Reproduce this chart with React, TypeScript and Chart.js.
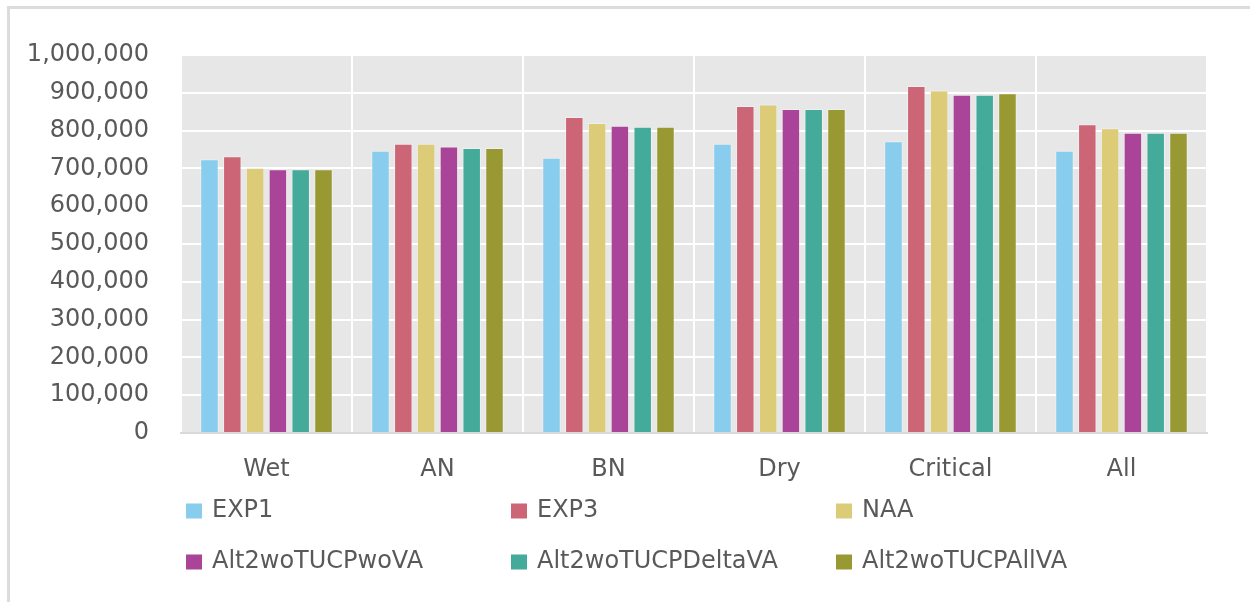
import React, { useEffect, useRef } from "react";
import { Chart, registerables } from "chart.js";

Chart.register(...registerables);

const categories = ["Wet", "AN", "BN", "Dry", "Critical", "All"];
const seriesNames = ["EXP1", "EXP3", "NAA", "Alt2woTUCPwoVA", "Alt2woTUCPDeltaVA", "Alt2woTUCPAllVA"];
const seriesColors = ["#88CCEE", "#CC6677", "#DDCC77", "#AA4499", "#44AA99", "#999933"];

const exp1 = [724000, 747000, 728000, 765000, 772000, 747000];
const exp3 = [732000, 765000, 836000, 865000, 918000, 817000];
const naa = [702000, 765000, 820000, 869000, 906000, 806000];
const woVA = [698000, 758000, 813000, 857000, 895000, 794000];
const deltaVA = [698000, 754000, 810000, 857000, 895000, 794000];
const allVA = [698000, 754000, 810000, 857000, 899000, 794000];
const seriesValues = [exp1, exp3, naa, woVA, deltaVA, allVA];

const yTicks = [0, 100000, 200000, 300000, 400000, 500000, 600000, 700000, 800000, 900000, 1000000];

const FONT = "'DejaVu Sans', 'Open Sans', sans-serif";
const TEXT = "#595959";

const bgPlugin = {
  id: "plotBg",
  beforeDraw(chart: any) {
    const { ctx, chartArea } = chart;
    ctx.save();
    ctx.fillStyle = "#e7e7e7";
    ctx.fillRect(chartArea.left, chartArea.top, chartArea.right - chartArea.left, chartArea.bottom - chartArea.top);
    ctx.restore();
  },
};

const gridLegendPlugin = {
  id: "gridLegend",
  afterDraw(chart: any) {
    const { ctx, chartArea } = chart;
    const ds = chart.data.datasets;
    const x0 = chartArea.left + 5;
    const colW = 325;
    const y0 = chartArea.bottom + 78;
    const rowH = 51;
    ctx.save();
    ctx.font = `24px ${FONT}`;
    ctx.textBaseline = "middle";
    ctx.textAlign = "left";
    ds.forEach((d: any, i: number) => {
      const col = i % 3;
      const row = Math.floor(i / 3);
      const x = x0 + col * colW;
      const y = y0 + row * rowH;
      ctx.fillStyle = d.backgroundColor;
      ctx.fillRect(x, y - 7.5, 16, 15);
      ctx.fillStyle = TEXT;
      ctx.fillText(d.label, x + 26, y);
    });
    ctx.restore();
  },
};

export default function App() {
  const ref = useRef<HTMLCanvasElement>(null);
  useEffect(() => {
    if (!ref.current) return;
    const chart = new Chart(ref.current, {
      type: "bar",
      data: {
        labels: categories,
        datasets: seriesNames.map((name, i) => ({
          label: name,
          data: seriesValues[i],
          backgroundColor: seriesColors[i],
          borderColor: "rgba(255,255,255,0.35)",
          borderWidth: 1,
          categoryPercentage: 0.8,
          barPercentage: 0.81,
        })),
      },
      options: {
        responsive: false,
        animation: false,
        devicePixelRatio: 1,
        layout: { padding: { left: 27, right: 43, top: 55, bottom: 118 } },
        plugins: {
          legend: { display: false },
          tooltip: { enabled: false },
        },
        scales: {
          x: {
            grid: { color: "#ffffff", lineWidth: 2, drawTicks: false, offset: true },
            border: { display: true, color: "#d9d9d9", width: 2 },
            ticks: { color: TEXT, font: { family: FONT, size: 24 }, padding: 22, maxRotation: 0 },
            afterFit(scale: any) {
              scale.height = 51;
            },
          },
          y: {
            min: 0,
            max: 1000000,
            afterBuildTicks(scale: any) {
              scale.ticks = yTicks.map((v) => ({ value: v }));
            },
            afterFit(scale: any) {
              scale.width = 154;
            },
            grid: { color: "#ffffff", lineWidth: 2, drawTicks: false },
            border: { display: false },
            ticks: {
              color: TEXT,
              font: { family: FONT, size: 24 },
              padding: 32,
              callback: (v: any) => Number(v).toLocaleString("en-US"),
            },
          },
        },
      },
      plugins: [bgPlugin, gridLegendPlugin],
    });
    return () => chart.destroy();
  }, []);
  return (
    <div
      style={{
        position: "fixed",
        left: 0,
        top: 0,
        width: 1250,
        height: 602,
        background: "#ffffff",
        overflow: "hidden",
      }}
    >
      <canvas ref={ref} width={1250} height={602} style={{ display: "block" }} />
      <div
        style={{
          position: "absolute",
          left: 7,
          top: 6,
          width: 1300,
          height: 700,
          borderLeft: "3px solid #dcdcdc",
          borderTop: "3px solid #dcdcdc",
          pointerEvents: "none",
        }}
      />
    </div>
  );
}
